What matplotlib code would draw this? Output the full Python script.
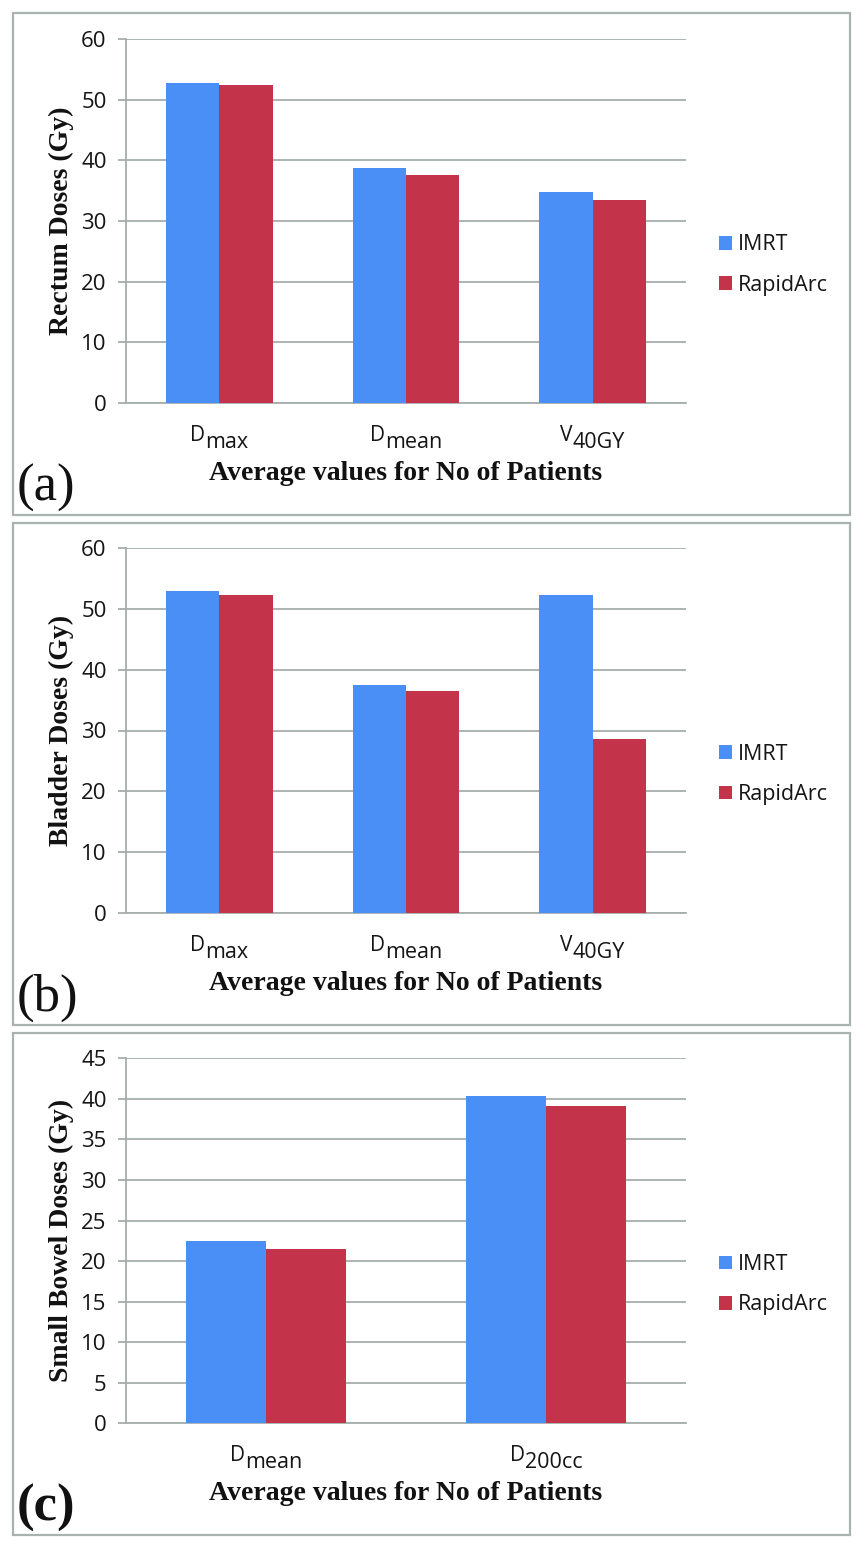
import matplotlib
matplotlib.use("Agg")
import matplotlib.pyplot as plt
import matplotlib.transforms as mtransforms
from matplotlib.patches import Rectangle
import numpy as np

# ---------------- data ----------------
series_names = ["IMRT", "RapidArc"]

rectum_cats = [("D", "max"), ("D", "mean"), ("V", "40GY")]
rectum_imrt = [52.7, 38.7, 34.7]
rectum_rapidarc = [52.4, 37.6, 33.4]

bladder_cats = [("D", "max"), ("D", "mean"), ("V", "40GY")]
bladder_imrt = [52.9, 37.5, 52.3]
bladder_rapidarc = [52.3, 36.5, 28.6]

bowel_cats = [("D", "mean"), ("D", "200cc")]
bowel_imrt = [22.5, 40.4]
bowel_rapidarc = [21.5, 39.1]

y_labels = ["Rectum Doses (Gy)", "Bladder Doses (Gy)", "Small Bowel Doses (Gy)"]
x_label = "Average values for No of Patients"
panel_tags = ["(a)", "(b)", "(c)"]
y_max = [60, 60, 45]
y_step = [10, 10, 5]

# ---------------- style ----------------
W, H, DPI = 864, 1547, 100
BLUE = "#4A8FF5"
RED = "#C3334A"
GRID = "#A6AEAE"
BORDER = "#A9B1B1"
SANS = "Open Sans"
SERIF = "Liberation Serif"
TXT = "#151515"

fig = plt.figure(figsize=(W / DPI, H / DPI), dpi=DPI)
fig.patch.set_facecolor("white")

def fx(px):
    return px / W

def fy(py):
    return 1 - py / H

# pixel layout of each panel: (border_top, border_bottom, axes_top, axes_bottom)
panels = [
    (13, 515, 39.0, 403.0),
    (523, 1025, 548.3, 912.7),
    (1033, 1535, 1058.3, 1423.3),
]
AX_L, AX_R = 126, 686
BOX_L, BOX_R = 13, 850

data = [
    (rectum_cats, rectum_imrt, rectum_rapidarc),
    (bladder_cats, bladder_imrt, bladder_rapidarc),
    (bowel_cats, bowel_imrt, bowel_rapidarc),
]

renderer = fig.canvas.get_renderer()

for i, ((btop, bbot, atop, abot), (cats, imrt, rapid)) in enumerate(zip(panels, data)):
    # border
    fig.patches.append(Rectangle((fx(BOX_L), fy(bbot)), fx(BOX_R - BOX_L), (bbot - btop) / H,
                                 transform=fig.transFigure, fill=False,
                                 edgecolor=BORDER, linewidth=1.6, zorder=0))
    ax = fig.add_axes([fx(AX_L), fy(abot), fx(AX_R - AX_L), (abot - atop) / H])
    n = len(cats)
    x = np.arange(n)
    bw = 1 / 3.5
    ax.bar(x - bw / 2, imrt, width=bw, color=BLUE, label=series_names[0], zorder=3)
    ax.bar(x + bw / 2, rapid, width=bw, color=RED, label=series_names[1], zorder=3)
    ax.set_xlim(-0.5, n - 0.5)
    ax.set_ylim(0, y_max[i])
    ax.set_yticks(np.arange(0, y_max[i] + 0.1, y_step[i]))
    ax.yaxis.grid(True, color=GRID, linewidth=1.3, zorder=0)
    ax.set_axisbelow(True)
    for s in ["top", "right"]:
        ax.spines[s].set_visible(False)
    for s in ["left", "bottom"]:
        ax.spines[s].set_color(GRID)
        ax.spines[s].set_linewidth(1.3)
    ax.tick_params(axis="y", length=6, width=1.3, color=GRID, pad=8,
                   labelsize=16, labelcolor=TXT)
    for lab in ax.get_yticklabels():
        lab.set_fontfamily(SANS)
    ax.set_xticks(x)
    ax.set_xticklabels([])
    ax.tick_params(axis="x", length=0)

    # category labels: raised main letter + normal-size rest
    base = mtransforms.blended_transform_factory(ax.transData, ax.transAxes)
    for xi, (main, rest) in zip(x, cats):
        tm = ax.text(xi, 0, main, transform=base, ha="left", va="baseline",
                     fontsize=15, family=SANS, color=TXT)
        tr = ax.text(xi, 0, rest, transform=base, ha="left", va="baseline",
                     fontsize=15.5, family=SANS, color=TXT)
        wm = tm.get_window_extent(renderer).width
        wr = tr.get_window_extent(renderer).width
        tot = wm + wr
        tm.set_transform(base + mtransforms.ScaledTranslation(-tot / 2 / DPI, -38 / DPI,
                                                                fig.dpi_scale_trans))
        tr.set_transform(base + mtransforms.ScaledTranslation((-tot / 2 + wm) / DPI, -45 / DPI,
                                                                fig.dpi_scale_trans))

    # legend
    mid = (atop + abot) / 2 + 44
    ax.legend(loc="center left", bbox_to_anchor=(fx(719), fy(mid)),
              bbox_transform=fig.transFigure, frameon=False,
              prop={"family": SANS, "size": 15.5}, handlelength=0.6, handleheight=0.6,
              handletextpad=0.3, labelspacing=0.9, borderpad=0, borderaxespad=0,
              labelcolor=TXT)

    # y label
    fig.text(fx(61), fy((atop + abot) / 2), y_labels[i], rotation=90, ha="center",
             va="center", family=SERIF, fontweight="bold", fontsize=20, color="#111111")
    # x label
    fig.text(fx(406), fy(abot + 77), x_label, ha="center", va="baseline",
             family=SERIF, fontweight="bold", fontsize=20, color="#111111")
    # panel tag
    fig.text(fx(17), fy(bbot - 14), panel_tags[i], ha="left", va="baseline",
             family=SERIF, fontweight="bold" if i == 2 else "normal",
             fontsize=38, color="#111111")

fig.savefig("out.png", dpi=DPI, facecolor="white")
